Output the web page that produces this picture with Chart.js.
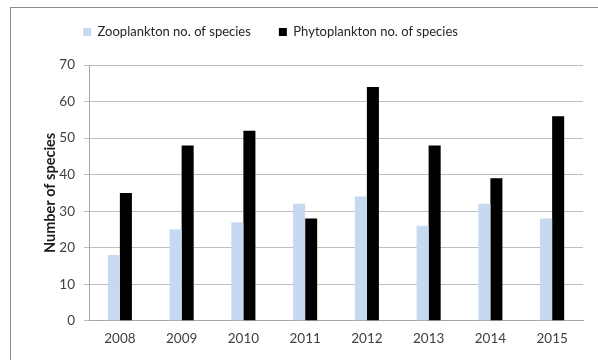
<!DOCTYPE html>
<html>
<head>
<meta charset="utf-8">
<script src="https://cdn.jsdelivr.net/npm/chart.js@4"></script>
<style>
  html, body { margin: 0; padding: 0; background: #fff; }
  #wrap { width: 598px; height: 360px; position: relative; }
</style>
</head>
<body>
<div id="wrap"><canvas id="c" width="598" height="360"></canvas></div>
<script>
// Yearly species counts
const years = ['2008', '2009', '2010', '2011', '2012', '2013', '2014', '2015'];
const zooplankton = [18, 25, 27, 32, 34, 26, 32, 28];
const phytoplankton = [35, 48, 52, 28, 64, 48, 39, 56];
const yTicks = [0, 10, 20, 30, 40, 50, 60, 70];

const FONT = 'Lato, "Open Sans", sans-serif';
const LEGEND_PAD = 28;

// Outer frame around the whole figure
const framePlugin = {
  id: 'frame',
  beforeDraw(chart) {
    const ctx = chart.ctx;
    ctx.save();
    ctx.fillStyle = '#ffffff';
    ctx.fillRect(0, 0, chart.width, chart.height);
    ctx.strokeStyle = '#8c8c8c';
    ctx.lineWidth = 1;
    ctx.strokeRect(10.5, 7.5, chart.width + 20, chart.height + 20);
    ctx.restore();
  }
};

// Reserve a fixed header band for the legend and nudge the legend row
const legendPlacement = {
  id: 'legendPlacement',
  afterInit(chart) {
    const legend = chart.legend;
    const fit = legend.fit.bind(legend);
    legend.fit = function () {
      fit();
      this.height = 65;
    };
  },
  afterLayout(chart) {
    const legend = chart.legend;
    const dx = -21;
    legend.left += dx;
    legend.right += dx;
    legend.top = 32 - LEGEND_PAD - 6.5;
  }
};

new Chart(document.getElementById('c'), {
  type: 'bar',
  data: {
    labels: years,
    datasets: [
      {
        label: 'Zooplankton no. of species',
        data: zooplankton,
        backgroundColor: '#c6d9f1',
        borderWidth: 0
      },
      {
        label: 'Phytoplankton no. of species',
        data: phytoplankton,
        backgroundColor: '#000000',
        borderWidth: 0
      }
    ]
  },
  options: {
    responsive: false,
    animation: false,
    devicePixelRatio: 1,
    layout: { padding: { left: 0, right: 15, top: 0, bottom: 3 } },
    datasets: { bar: { categoryPercentage: 0.39, barPercentage: 1.0 } },
    plugins: {
      legend: {
        position: 'top',
        labels: {
          font: { family: FONT, size: 13 },
          color: '#262626',
          boxWidth: 8,
          boxHeight: 8,
          padding: LEGEND_PAD
        }
      },
      tooltip: { enabled: false }
    },
    scales: {
      x: {
        grid: { display: false, drawTicks: false },
        border: { display: true, color: '#a6a6a6', width: 1 },
        ticks: { font: { family: FONT, size: 13.5 }, color: '#404040', padding: 10 }
      },
      y: {
        min: 0,
        max: 70,
        afterBuildTicks(scale) { scale.ticks = yTicks.map(v => ({ value: v })); },
        afterFit(scale) { scale.width = 89; },
        grid: { color: '#bfbfbf', tickLength: 5, drawTicks: true },
        border: { display: true, color: '#a6a6a6', width: 1 },
        ticks: { font: { family: FONT, size: 13.5 }, color: '#404040', padding: 9 },
        title: {
          display: true,
          text: 'Number of species',
          font: { family: FONT, size: 14.5, weight: 'bold' },
          color: '#1a1a1a',
          padding: { top: 42, bottom: 0 }
        }
      }
    }
  },
  plugins: [framePlugin, legendPlacement]
});
</script>
</body>
</html>
